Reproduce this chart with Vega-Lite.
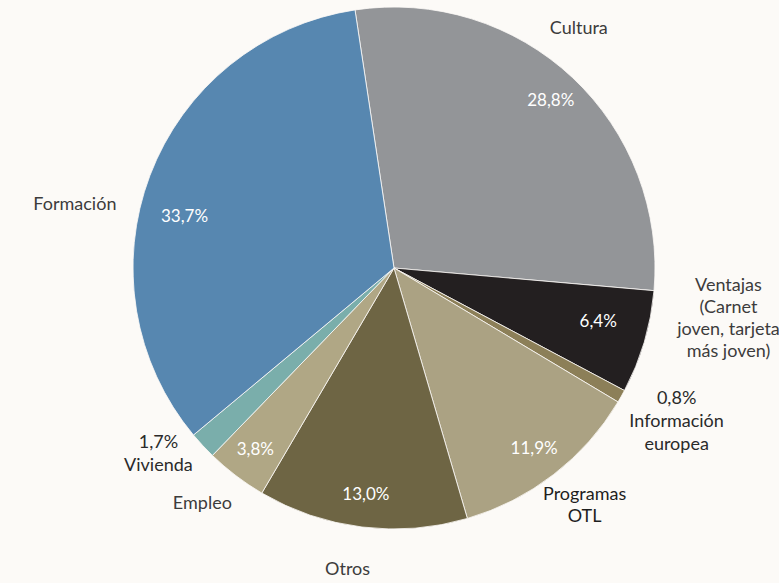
{
  "$schema": "https://vega.github.io/schema/vega-lite/v6.json",
  "width": 770,
  "height": 536,
  "autosize": "none",
  "padding": {"left": 9, "top": 0, "right": 0, "bottom": 47},
  "background": "#fcfaf7",
  "config": {"view": {"stroke": null}, "text": {"font": "Lato"}},
  "data": {
    "values": [
      {"cat": "Cultura", "valor": 28.8, "orden": 1, "pct": "28,8%", "etiqueta": "Cultura"},
      {"cat": "Ventajas", "valor": 6.4, "orden": 2, "pct": "6,4%", "etiqueta": "Ventajas\n(Carnet\njoven, tarjeta\nmás joven)"},
      {"cat": "Información europea", "valor": 0.8, "orden": 3, "pct": "", "etiqueta": "0,8%\nInformación\neuropea"},
      {"cat": "Programas OTL", "valor": 11.9, "orden": 4, "pct": "11,9%", "etiqueta": "Programas\nOTL"},
      {"cat": "Otros", "valor": 13.0, "orden": 5, "pct": "13,0%", "etiqueta": "Otros"},
      {"cat": "Empleo", "valor": 3.8, "orden": 6, "pct": "3,8%", "etiqueta": "Empleo"},
      {"cat": "Vivienda", "valor": 1.7, "orden": 7, "pct": "", "etiqueta": "1,7%\nVivienda"},
      {"cat": "Formación", "valor": 33.7, "orden": 8, "pct": "33,7%", "etiqueta": "Formación"}
    ]
  },
  "encoding": {
    "theta": {"field": "valor", "type": "quantitative", "stack": true, "scale": {"range": [-0.15, 6.1332]}},
    "order": {"field": "orden", "type": "quantitative"}
  },
  "layer": [
    {
      "mark": {"type": "arc", "radius": 261, "stroke": "#fcfaf7", "strokeWidth": 0.8},
      "encoding": {
        "color": {
          "field": "cat", "type": "nominal", "legend": null,
          "scale": {
            "domain": ["Cultura", "Ventajas", "Información europea", "Programas OTL", "Otros", "Empleo", "Vivienda", "Formación"],
            "range": ["#939598", "#231f20", "#8c7f58", "#aba283", "#6e6544", "#b0a785", "#7aaeab", "#5787b0"]
          }
        }
      }
    },
    {
      "mark": {"type": "text", "radius": 229, "fontSize": 17, "color": "#ffffff", "align": "center", "baseline": "middle"},
      "encoding": {"text": {"condition": {"test": "datum.cat == 'Cultura' || datum.cat == 'Programas OTL' || datum.cat == 'Otros' || datum.cat == 'Empleo'", "field": "pct"}, "value": ""}}
    },
    {
      "mark": {"type": "text", "radius": 215, "fontSize": 17, "color": "#ffffff", "align": "center", "baseline": "middle", "dx": -2, "dy": -7},
      "encoding": {"text": {"condition": {"test": "datum.cat == 'Ventajas'", "field": "pct"}, "value": ""}}
    },
    {
      "mark": {"type": "text", "radius": 222, "fontSize": 17, "color": "#ffffff", "align": "center", "baseline": "middle", "dx": -2, "dy": 28},
      "encoding": {"text": {"condition": {"test": "datum.cat == 'Formación'", "field": "pct"}, "value": ""}}
    },
    {
      "mark": {"type": "text", "radius": 305, "fontSize": 18, "color": "#3c3c3c", "align": "center", "baseline": "middle", "dx": -9, "dy": -1},
      "encoding": {"text": {"condition": {"test": "datum.cat == 'Otros'", "field": "etiqueta"}, "value": ""}}
    },
    {
      "mark": {"type": "text", "radius": 305, "fontSize": 18, "color": "#3c3c3c", "align": "center", "baseline": "middle", "dx": -7, "dy": -7},
      "encoding": {"text": {"condition": {"test": "datum.cat == 'Empleo'", "field": "etiqueta"}, "value": ""}}
    },
    {
      "mark": {"type": "text", "radius": 305, "fontSize": 18, "color": "#1e1e1e", "align": "center", "baseline": "middle", "lineBreak": "\n", "lineHeight": 22, "dx": 4, "dy": -14},
      "encoding": {"text": {"condition": {"test": "datum.cat == 'Programas OTL'", "field": "etiqueta"}, "value": ""}}
    },
    {
      "mark": {"type": "text", "radius": 305, "fontSize": 18, "color": "#3c3c3c", "align": "center", "baseline": "middle", "dx": -24, "dy": -17},
      "encoding": {"text": {"condition": {"test": "datum.cat == 'Cultura'", "field": "etiqueta"}, "value": ""}}
    },
    {
      "mark": {"type": "text", "radius": 305, "fontSize": 18, "color": "#3c3c3c", "align": "center", "baseline": "middle", "lineBreak": "\n", "lineHeight": 22.3, "dx": 42, "dy": -69},
      "encoding": {"text": {"condition": {"test": "datum.cat == 'Ventajas'", "field": "etiqueta"}, "value": ""}}
    },
    {
      "mark": {"type": "text", "radius": 305, "fontSize": 18, "color": "#2a2a2a", "align": "center", "baseline": "middle", "lineBreak": "\n", "lineHeight": 23, "dx": 17, "dy": -19},
      "encoding": {"text": {"condition": {"test": "datum.cat == 'Información europea'", "field": "etiqueta"}, "value": ""}}
    },
    {
      "mark": {"type": "text", "radius": 305, "fontSize": 18, "color": "#2a2a2a", "align": "center", "baseline": "middle", "lineBreak": "\n", "lineHeight": 23, "dx": -12, "dy": -32},
      "encoding": {"text": {"condition": {"test": "datum.cat == 'Vivienda'", "field": "etiqueta"}, "value": ""}}
    },
    {
      "mark": {"type": "text", "radius": 305, "fontSize": 18, "color": "#3c3c3c", "align": "center", "baseline": "middle", "dx": -34, "dy": 45},
      "encoding": {"text": {"condition": {"test": "datum.cat == 'Formación'", "field": "etiqueta"}, "value": ""}}
    }
  ]
}
